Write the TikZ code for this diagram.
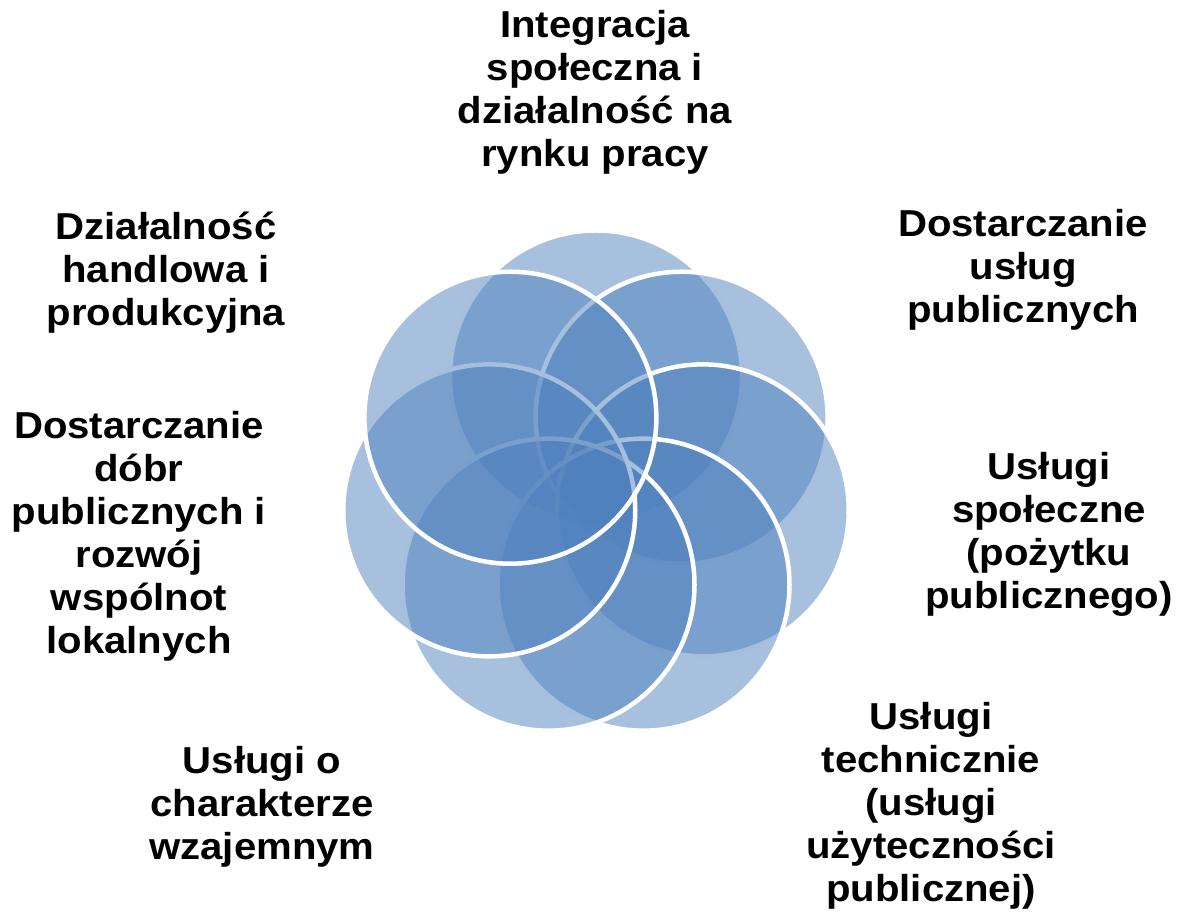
\documentclass[tikz,border=0pt]{standalone}
\usepackage{fontspec}
\setmainfont{Liberation Sans}[FakeStretch=1.07]
\usetikzlibrary{calc}

\definecolor{niebieski}{HTML}{4F81BD}

\tikzset{
    kolo/.style={draw=white, line width=2.25pt, fill=niebieski, fill opacity=0.5},
    opis/.style={align=center, inner sep=0pt, font=\fontsize{18.75}{21.5}\selectfont\bfseries}
}

\begin{document}
\begin{tikzpicture}[x=0.5pt, y=-0.5pt]
    \useasboundingbox (0,0) rectangle (1179,913);

    % Srodek i srodki kol
    \coordinate (s) at (596,486);
    \coordinate (k1) at ($(s)+(-90:109.5)$);
    \coordinate (k2) at ($(s)+(-38.57:109.5)$);
    \coordinate (k3) at ($(s)+(12.86:109.5)$);
    \coordinate (k4) at ($(s)+(64.29:109.5)$);
    \coordinate (k5) at ($(s)+(115.71:109.5)$);
    \coordinate (k6) at ($(s)+(167.14:109.5)$);
    \coordinate (k7) at ($(s)+(218.57:109.5)$);

    % Kola (kolejnosc rysowania jak w oryginale)
    \draw[kolo] (k1) circle (146);
    \draw[kolo] (k2) circle (146);
    \draw[kolo] (k3) circle (146);
    \draw[kolo] (k4) circle (146);
    \draw[kolo] (k5) circle (146);
    \draw[kolo] (k6) circle (146);
    \draw[kolo] (k7) circle (146);

    % Opisy
    \node[opis] (integracja) at (595,92) {Integracja\\społeczna i\\działalność na\\rynku pracy};
    \node[opis] (uslugipubl) at (1023,270) {Dostarczanie\\usług\\publicznych};
    \node[opis] (spoleczne) at (1049,534) {Usługi\\społeczne\\(pożytku\\publicznego)};
    \node[opis] (techniczne) at (931,806) {Usługi\\technicznie\\(usługi\\użyteczności\\publicznej)};
    \node[opis] (wzajemne) at (262,807) {Usługi o\\charakterze\\wzajemnym};
    \node[opis] (handlowa) at (166,273) {Działalność\\handlowa i\\produkcyjna};
    \node[opis] (dobra) at (139,536) {Dostarczanie\\dóbr\\publicznych i\\rozwój\\wspólnot\\lokalnych};

\end{tikzpicture}
\end{document}
